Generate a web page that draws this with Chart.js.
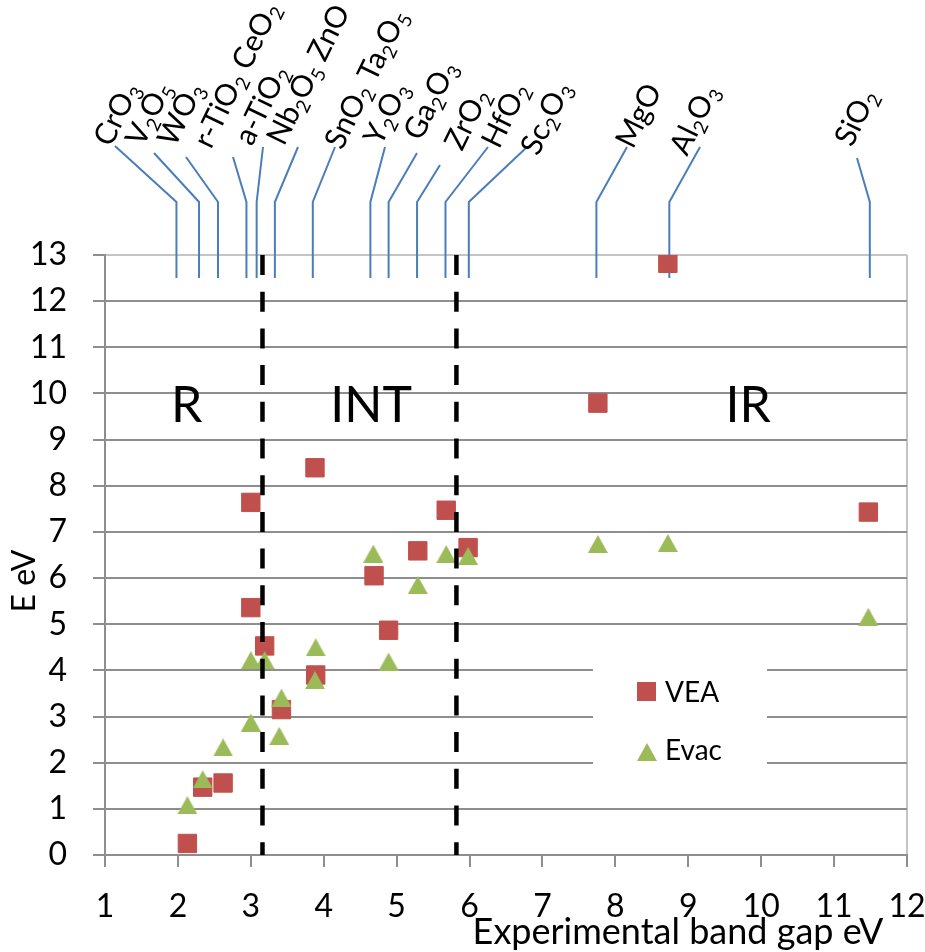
<!DOCTYPE html>
<html>
<head>
<meta charset="utf-8">
<script src="https://cdn.jsdelivr.net/npm/chart.js@4.4.1/dist/chart.umd.min.js"></script>
<style>
    html, body { margin: 0; padding: 0; background: #fff; }
    #wrap { width: 925px; height: 952px; }
</style>
</head>
<body>
<div id="wrap"><canvas id="myChart" width="925" height="952"></canvas></div>
<script>
// data
const gapVEA = [2.13, 2.34, 2.62, 3.0, 3.0, 3.19, 3.42, 3.88, 3.89, 4.69, 4.89, 5.29, 5.68, 5.98, 7.76, 8.72, 11.47];
const valVEA = [0.25, 1.47, 1.56, 7.64, 5.36, 4.53, 3.15, 8.39, 3.90, 6.05, 4.87, 6.59, 7.47, 6.66, 9.79, 12.82, 7.43];
const gapEvac = [2.13, 2.34, 2.62, 3.0, 3.0, 3.19, 3.39, 3.42, 3.88, 3.89, 4.68, 4.89, 5.29, 5.68, 5.98, 7.76, 8.72, 11.47];
const valEvac = [1.08, 1.64, 2.33, 2.87, 4.22, 4.22, 2.58, 3.41, 3.79, 4.50, 6.53, 4.19, 5.85, 6.52, 6.48, 6.74, 6.76, 5.16];
const boundaryX = [3.16, 5.82];
const regionNames = ['R', 'INT', 'IR'];
const regionX = [2.12, 4.65, 9.82];
const compounds = ['CrO_3', 'V_2O_5', 'WO_3', 'r-TiO_2 CeO_2', 'a-TiO_2', 'Nb_2O_5 ZnO', 'SnO_2 Ta_2O_5',
    'Y_2O_3', 'Ga_2O_3', 'ZrO_2', 'HfO_2', 'Sc_2O_3', 'MgO', 'Al_2O_3', 'SiO_2'];
const compoundGap = [1.98, 2.29, 2.55, 2.94, 3.08, 3.33, 3.85, 4.64, 4.89, 5.28, 5.67, 5.99, 7.74, 8.74, 11.49];

// label placement (pixels), not data
const labelAnchor = [[111,148],[143,148],[175,148],[211,150],[252,147],[284,147],[342,151],
    [381,147],[421,142],[462,152],[499,150],[538,157],[633,150],[687,157],[852,148]];
const leaderTop = [[115,146],[154,153],[186,157],[233,157],[263,147],[298,147],[335,147],
    [385,147],[417,153],[440,165],[488,147],[527,147],[627,147],[700,147],[857,158]];

const FONT = 'Lato, "Open Sans", sans-serif';
const RED = '#C0504D';
const GREEN = '#9BBB59';
const GRID = '#8e8e8e';

// triangle marker centred on its box (like the original)
const tri = document.createElement('canvas');
tri.width = 20; tri.height = 18;
const tctx = tri.getContext('2d');
tctx.fillStyle = GREEN;
tctx.beginPath();
tctx.moveTo(10, 0); tctx.lineTo(20, 18); tctx.lineTo(0, 18);
tctx.closePath();
tctx.fill();

const toPoints = (xs, ys) => xs.map((v, i) => ({ x: v, y: ys[i] }));

const drawFormula = function (ctx, text, size) {
    let x = 0;
    text.split(/(_\d)/).forEach((p) => {
        if (!p) return;
        if (p[0] === '_') {
            ctx.font = (size * 0.64) + 'px ' + FONT;
            ctx.fillText(p.slice(1), x, size * 0.2);
            x += ctx.measureText(p.slice(1)).width;
        } else {
            ctx.font = size + 'px ' + FONT;
            ctx.fillText(p, x, 0);
            x += ctx.measureText(p).width;
        }
    });
};

const extras = {
    id: 'extras',
    beforeDatasetsDraw(chart) {
        const ctx = chart.ctx;
        const xs = chart.scales.x, ys = chart.scales.y;
        ctx.save();
        // leader lines
        ctx.strokeStyle = '#4A7EBB';
        ctx.lineWidth = 2;
        const knee = chart.chartArea.top - 53;
        compoundGap.forEach((v, i) => {
            const px = xs.getPixelForValue(v);
            ctx.beginPath();
            ctx.moveTo(px, ys.getPixelForValue(12.5));
            ctx.lineTo(px, knee);
            ctx.lineTo(leaderTop[i][0], leaderTop[i][1]);
            ctx.stroke();
        });
        // legend box over the grid
        ctx.fillStyle = '#fff';
        ctx.fillRect(593, 643, 174, 138);
        ctx.fillStyle = RED;
        ctx.fillRect(637, 682, 19, 19);
        ctx.drawImage(tri, 637, 743);
        ctx.fillStyle = '#000';
        ctx.font = '28px ' + FONT;
        ctx.textBaseline = 'alphabetic';
        ctx.fillText(chart.data.datasets[0].label, 665, 702);
        ctx.fillText(chart.data.datasets[1].label, 665, 760);
        ctx.restore();
    },
    afterDraw(chart) {
        const ctx = chart.ctx;
        const xs = chart.scales.x;
        ctx.save();
        ctx.fillStyle = '#000';
        ctx.textBaseline = 'alphabetic';
        // compound labels
        compounds.forEach((name, i) => {
            ctx.save();
            ctx.translate(labelAnchor[i][0], labelAnchor[i][1]);
            ctx.rotate(-64 * Math.PI / 180);
            ctx.textAlign = 'left';
            drawFormula(ctx, name, 30);
            ctx.restore();
        });
        // regions
        ctx.font = '50px ' + FONT;
        ctx.textAlign = 'center';
        regionNames.forEach((r, i) => {
            ctx.fillText(r, xs.getPixelForValue(regionX[i]), 422);
        });
        // axis titles
        ctx.font = '36px ' + FONT;
        ctx.fillText('Experimental band gap eV', 678, 944);
        ctx.save();
        ctx.translate(35, 581);
        ctx.rotate(-Math.PI / 2);
        ctx.font = '32px ' + FONT;
        ctx.fillText('E eV', 0, 0);
        ctx.restore();
        ctx.restore();
    }
};

const ctx = document.getElementById('myChart').getContext('2d');
new Chart(ctx, {
    type: 'scatter',
    data: {
        datasets: [{
            label: 'VEA',
            data: toPoints(gapVEA, valVEA),
            pointStyle: 'rect',
            pointRadius: 13,
            backgroundColor: RED,
            borderColor: RED,
            borderWidth: 1,
            order: 2,
        },
        {
            label: 'Evac',
            data: toPoints(gapEvac, valEvac),
            pointStyle: tri,
            backgroundColor: GREEN,
            borderColor: GREEN,
            order: 1,
        },
        ...boundaryX.map((b) => ({
            label: 'boundary',
            data: [{ x: b, y: 13 }, { x: b, y: 0 }],
            showLine: true,
            borderColor: '#000',
            borderWidth: 4.5,
            borderDash: [20, 16.7],
            pointRadius: 0,
            order: 0,
        }))]
    },
    options: {
        responsive: false,
        animation: false,
        devicePixelRatio: 1,
        layout: { padding: { top: 255, right: 18, left: 0, bottom: 0 } },
        plugins: { legend: { display: false }, tooltip: { enabled: false } },
        scales: {
            x: {
                type: 'linear', min: 1, max: 12,
                afterFit: (s) => { s.height = 97; s.paddingLeft = 0; s.paddingRight = 0; },
                ticks: { stepSize: 1, color: '#000', font: { family: FONT, size: 32 }, padding: 20 },
                grid: {
                    color: (c) => (c.tick && c.tick.value === 12 ? '#c4c4c4' : 'rgba(0,0,0,0)'),
                    tickColor: GRID, tickLength: 12, lineWidth: 2,
                },
                border: { color: GRID, width: 2 },
            },
            y: {
                min: 0, max: 13,
                afterFit: (s) => { s.width = 105; s.paddingTop = 0; s.paddingBottom = 0; },
                ticks: { stepSize: 1, color: '#000', font: { family: FONT, size: 32 }, padding: 26 },
                grid: {
                    color: (c) => (c.tick && c.tick.value === 13 ? '#c4c4c4' : GRID),
                    tickColor: GRID, tickLength: 12, lineWidth: 2,
                },
                border: { color: GRID, width: 2 },
            }
        }
    },
    plugins: [extras]
});
</script>
</body>
</html>
